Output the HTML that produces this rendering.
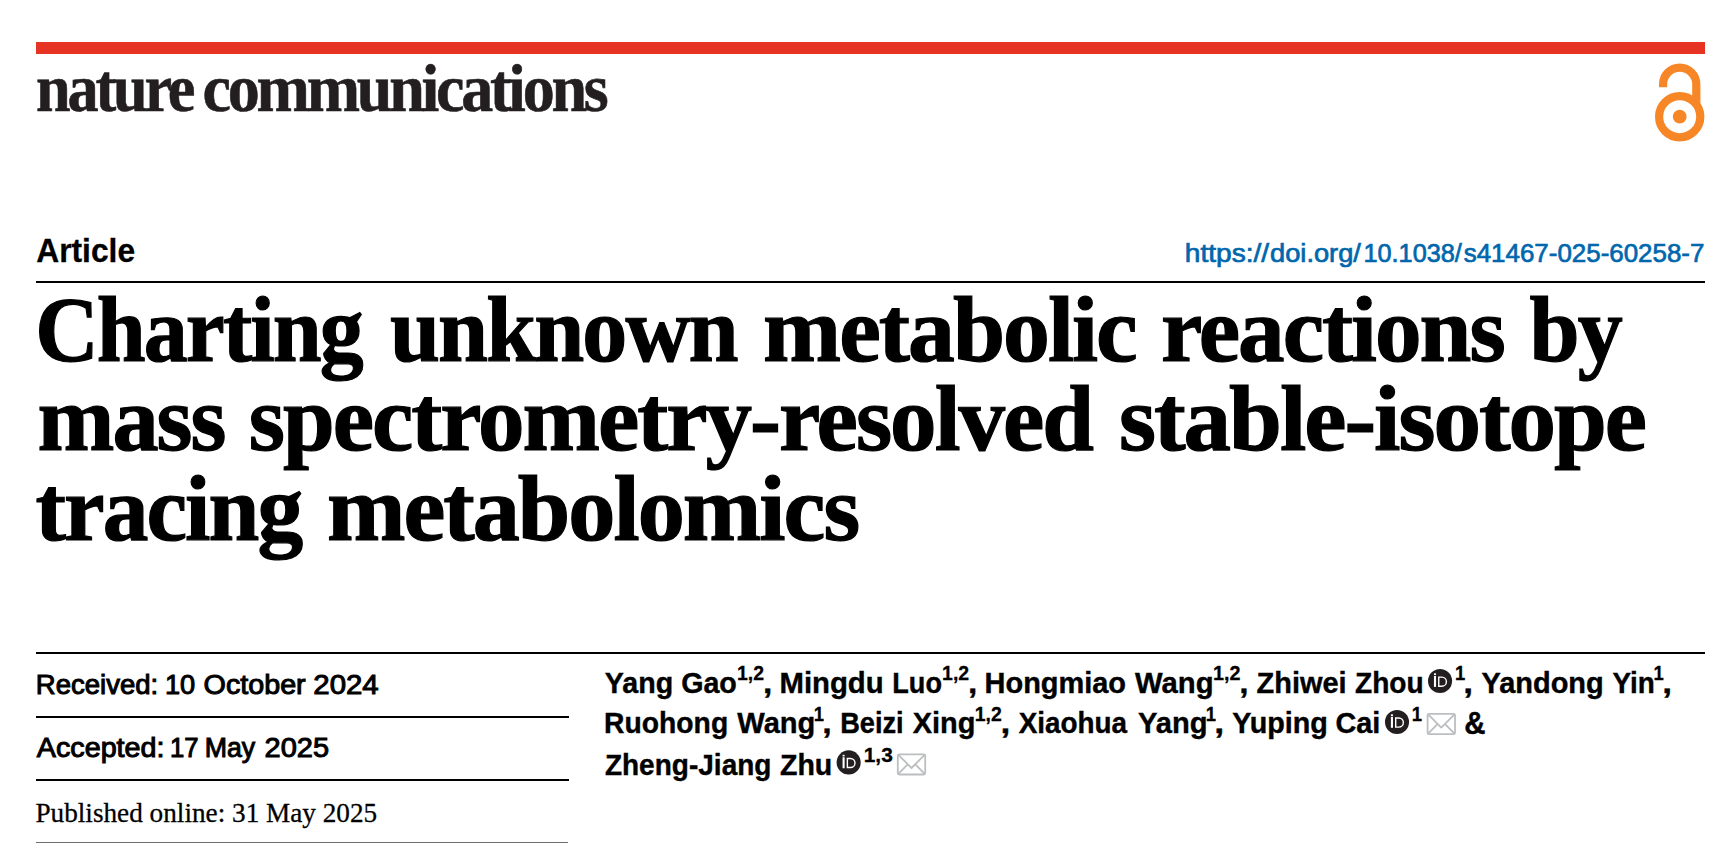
<!DOCTYPE html>
<html lang="en">
<head>
<meta charset="utf-8">
<title>Charting unknown metabolic reactions by mass spectrometry-resolved stable-isotope tracing metabolomics | Nature Communications</title>
<style>
html,body{margin:0;padding:0;background:#fff}
body{width:1727px;height:843px;position:relative;overflow:hidden;font-family:"Liberation Sans", sans-serif}
h1,h2,p,header,section,div,a,sup{margin:0;padding:0;font-weight:inherit;font-size:inherit}
a{text-decoration:none;color:inherit}
.t{position:absolute;left:0;top:0;white-space:nowrap;transform-origin:0 0;display:block}
.r{position:absolute;background:#000}
svg.ic{position:absolute;left:0;top:0;overflow:visible}
.t0{font:bold 67px/1 "Liberation Serif", serif;color:#231f20;transform:translate(35.95px,55.20px) scale(0.9294,1.0000);-webkit-text-stroke:0.6px #231f20;letter-spacing:-3.4px}
.t1{font:bold 67px/1 "Liberation Serif", serif;color:#231f20;transform:translate(202.57px,55.20px) scale(0.9561,1.0000);-webkit-text-stroke:0.6px #231f20;letter-spacing:-3.4px}
.t2{font:bold 32.3px/1 "Liberation Sans", sans-serif;color:#000;transform:translate(36.25px,234.55px) scale(0.9834,1.0000);-webkit-text-stroke:0.3px #000}
.t3{font:normal 26px/1 "Liberation Sans", sans-serif;color:#0067ad;transform:translate(1184.80px,239.65px) scale(1.0813,1.0000);-webkit-text-stroke:0.7px #0067ad}
.t4{font:normal 26px/1 "Liberation Sans", sans-serif;color:#0067ad;transform:translate(1270.02px,239.65px) scale(1.0482,1.0000);-webkit-text-stroke:0.7px #0067ad}
.t5{font:normal 26px/1 "Liberation Sans", sans-serif;color:#0067ad;transform:translate(1363.47px,239.65px) scale(0.9716,1.0000);-webkit-text-stroke:0.7px #0067ad}
.t6{font:normal 26px/1 "Liberation Sans", sans-serif;color:#0067ad;transform:translate(1463.75px,239.65px) scale(0.9969,1.0000);-webkit-text-stroke:0.7px #0067ad}
.t7{font:bold 94px/1 "Liberation Serif", serif;color:#000;transform:translate(35.32px,282.20px) scale(0.9341,1.0000);-webkit-text-stroke:1.2px #000;letter-spacing:-2px}
.t8{font:bold 94px/1 "Liberation Serif", serif;color:#000;transform:translate(389.92px,282.20px) scale(0.9568,1.0000);-webkit-text-stroke:1.2px #000;letter-spacing:-2px}
.t9{font:bold 94px/1 "Liberation Serif", serif;color:#000;transform:translate(763.10px,282.20px) scale(0.9972,1.0000);-webkit-text-stroke:1.2px #000;letter-spacing:-2px}
.t10{font:bold 94px/1 "Liberation Serif", serif;color:#000;transform:translate(1161.01px,282.20px) scale(0.9911,1.0000);-webkit-text-stroke:1.2px #000;letter-spacing:-2px}
.t11{font:bold 94px/1 "Liberation Serif", serif;color:#000;transform:translate(1529.62px,282.20px) scale(0.9582,1.0000);-webkit-text-stroke:1.2px #000;letter-spacing:-2px}
.t12{font:bold 94px/1 "Liberation Serif", serif;color:#000;transform:translate(37.42px,371.10px) scale(0.9827,1.0000);-webkit-text-stroke:1.2px #000;letter-spacing:-2px}
.t13{font:bold 94px/1 "Liberation Serif", serif;color:#000;transform:translate(248.82px,371.10px) scale(0.9892,1.0000);-webkit-text-stroke:1.2px #000;letter-spacing:-2px}
.t14{font:bold 94px/1 "Liberation Serif", serif;color:#000;transform:translate(1118.98px,371.10px) scale(1.0110,1.0000);-webkit-text-stroke:1.2px #000;letter-spacing:-2px}
.t15{font:bold 94px/1 "Liberation Serif", serif;color:#000;transform:translate(35.51px,460.80px) scale(0.9726,1.0000);-webkit-text-stroke:1.2px #000;letter-spacing:-2px}
.t16{font:bold 94px/1 "Liberation Serif", serif;color:#000;transform:translate(326.90px,460.80px) scale(1.0033,1.0000);-webkit-text-stroke:1.2px #000;letter-spacing:-2px}
.t17{font:normal 27px/1 "Liberation Sans", sans-serif;color:#000;transform:translate(35.77px,671.50px) scale(1.0199,1.0000);-webkit-text-stroke:1.0px #000}
.t18{font:normal 27px/1 "Liberation Sans", sans-serif;color:#000;transform:translate(164.99px,671.50px) scale(1.0066,1.0000);-webkit-text-stroke:1.0px #000}
.t19{font:normal 27px/1 "Liberation Sans", sans-serif;color:#000;transform:translate(203.57px,671.50px) scale(1.0630,1.0000);-webkit-text-stroke:1.0px #000}
.t20{font:normal 27px/1 "Liberation Sans", sans-serif;color:#000;transform:translate(313.36px,671.50px) scale(1.0875,1.0000);-webkit-text-stroke:1.0px #000}
.t21{font:normal 27px/1 "Liberation Sans", sans-serif;color:#000;transform:translate(36.83px,734.50px) scale(1.0629,1.0000);-webkit-text-stroke:1.0px #000}
.t22{font:normal 27px/1 "Liberation Sans", sans-serif;color:#000;transform:translate(170.07px,734.50px) scale(0.9500,1.0000);-webkit-text-stroke:1.0px #000}
.t23{font:normal 27px/1 "Liberation Sans", sans-serif;color:#000;transform:translate(204.72px,734.50px) scale(0.9900,1.0000);-webkit-text-stroke:1.0px #000}
.t24{font:normal 27px/1 "Liberation Sans", sans-serif;color:#000;transform:translate(264.56px,734.50px) scale(1.0737,1.0000);-webkit-text-stroke:1.0px #000}
.t25{font:normal 28.3px/1 "Liberation Serif", serif;color:#000;transform:translate(35.44px,798.95px) scale(0.9619,1.0000);-webkit-text-stroke:0.3px #000}
.t26{font:bold 30.2px/1 "Liberation Sans", sans-serif;color:#000;transform:translate(604.79px,667.70px) scale(0.9483,1.0000);-webkit-text-stroke:0.4px #000}
.t27{font:bold 20.5px/1 "Liberation Sans", sans-serif;color:#000;transform:translate(736.99px,663.35px) scale(0.9490,1.0000);-webkit-text-stroke:0.3px #000}
.t28{font:bold 30.2px/1 "Liberation Sans", sans-serif;color:#000;transform:translate(763.00px,667.70px) scale(1.1111,1.0000);-webkit-text-stroke:0.4px #000}
.t29{font:bold 30.2px/1 "Liberation Sans", sans-serif;color:#000;transform:translate(779.45px,667.70px) scale(0.9717,1.0000);-webkit-text-stroke:0.4px #000}
.t30{font:bold 30.2px/1 "Liberation Sans", sans-serif;color:#000;transform:translate(892.29px,667.70px) scale(0.8972,1.0000);-webkit-text-stroke:0.4px #000}
.t31{font:bold 20.5px/1 "Liberation Sans", sans-serif;color:#000;transform:translate(942.09px,663.35px) scale(0.9490,1.0000);-webkit-text-stroke:0.3px #000}
.t32{font:bold 30.2px/1 "Liberation Sans", sans-serif;color:#000;transform:translate(968.00px,667.70px) scale(1.1111,1.0000);-webkit-text-stroke:0.4px #000}
.t33{font:bold 30.2px/1 "Liberation Sans", sans-serif;color:#000;transform:translate(984.57px,667.70px) scale(0.9585,1.0000);-webkit-text-stroke:0.4px #000}
.t34{font:bold 30.2px/1 "Liberation Sans", sans-serif;color:#000;transform:translate(1134.99px,667.70px) scale(0.9700,1.0000);-webkit-text-stroke:0.4px #000}
.t35{font:bold 20.5px/1 "Liberation Sans", sans-serif;color:#000;transform:translate(1212.98px,663.35px) scale(0.9636,1.0000);-webkit-text-stroke:0.3px #000}
.t36{font:bold 30.2px/1 "Liberation Sans", sans-serif;color:#000;transform:translate(1239.20px,667.70px) scale(1.1111,1.0000);-webkit-text-stroke:0.4px #000}
.t37{font:bold 30.2px/1 "Liberation Sans", sans-serif;color:#000;transform:translate(1256.59px,667.70px) scale(0.9587,1.0000);-webkit-text-stroke:0.4px #000}
.t38{font:bold 30.2px/1 "Liberation Sans", sans-serif;color:#000;transform:translate(1354.99px,667.70px) scale(0.9310,1.0000);-webkit-text-stroke:0.4px #000}
.t39{font:bold 20.5px/1 "Liberation Sans", sans-serif;color:#000;transform:translate(1455.05px,663.35px) scale(0.9000,1.0000);-webkit-text-stroke:0.3px #000}
.t40{font:bold 30.2px/1 "Liberation Sans", sans-serif;color:#000;transform:translate(1463.20px,667.70px) scale(1.1667,1.0000);-webkit-text-stroke:0.4px #000}
.t41{font:bold 30.2px/1 "Liberation Sans", sans-serif;color:#000;transform:translate(1481.49px,667.70px) scale(0.9587,1.0000);-webkit-text-stroke:0.4px #000}
.t42{font:bold 30.2px/1 "Liberation Sans", sans-serif;color:#000;transform:translate(1612.38px,667.70px) scale(0.9241,1.0000);-webkit-text-stroke:0.4px #000}
.t43{font:bold 20.5px/1 "Liberation Sans", sans-serif;color:#000;transform:translate(1653.60px,663.35px) scale(0.9000,1.0000);-webkit-text-stroke:0.3px #000}
.t44{font:bold 30.2px/1 "Liberation Sans", sans-serif;color:#000;transform:translate(1662.20px,667.70px) scale(1.1667,1.0000);-webkit-text-stroke:0.4px #000}
.t45{font:bold 30.2px/1 "Liberation Sans", sans-serif;color:#000;transform:translate(604.11px,708.30px) scale(0.9366,1.0000);-webkit-text-stroke:0.4px #000}
.t46{font:bold 30.2px/1 "Liberation Sans", sans-serif;color:#000;transform:translate(737.29px,708.30px) scale(0.9637,1.0000);-webkit-text-stroke:0.4px #000}
.t47{font:bold 20.5px/1 "Liberation Sans", sans-serif;color:#000;transform:translate(813.85px,703.65px) scale(0.9000,1.0000);-webkit-text-stroke:0.3px #000}
.t48{font:bold 30.2px/1 "Liberation Sans", sans-serif;color:#000;transform:translate(822.27px,708.30px) scale(1.1296,1.0000);-webkit-text-stroke:0.4px #000}
.t49{font:bold 30.2px/1 "Liberation Sans", sans-serif;color:#000;transform:translate(840.18px,708.30px) scale(0.9011,1.0000);-webkit-text-stroke:0.4px #000}
.t50{font:bold 30.2px/1 "Liberation Sans", sans-serif;color:#000;transform:translate(912.69px,708.30px) scale(0.9586,1.0000);-webkit-text-stroke:0.4px #000}
.t51{font:bold 20.5px/1 "Liberation Sans", sans-serif;color:#000;transform:translate(974.79px,703.65px) scale(0.9490,1.0000);-webkit-text-stroke:0.3px #000}
.t52{font:bold 30.2px/1 "Liberation Sans", sans-serif;color:#000;transform:translate(1000.50px,708.30px) scale(1.1667,1.0000);-webkit-text-stroke:0.4px #000}
.t53{font:bold 30.2px/1 "Liberation Sans", sans-serif;color:#000;transform:translate(1018.68px,708.30px) scale(0.9226,1.0000);-webkit-text-stroke:0.4px #000}
.t54{font:bold 30.2px/1 "Liberation Sans", sans-serif;color:#000;transform:translate(1137.89px,708.30px) scale(0.9649,1.0000);-webkit-text-stroke:0.4px #000}
.t55{font:bold 20.5px/1 "Liberation Sans", sans-serif;color:#000;transform:translate(1205.80px,703.65px) scale(0.9000,1.0000);-webkit-text-stroke:0.3px #000}
.t56{font:bold 30.2px/1 "Liberation Sans", sans-serif;color:#000;transform:translate(1214.27px,708.30px) scale(1.1852,1.0000);-webkit-text-stroke:0.4px #000}
.t57{font:bold 30.2px/1 "Liberation Sans", sans-serif;color:#000;transform:translate(1232.19px,708.30px) scale(0.9510,1.0000);-webkit-text-stroke:0.4px #000}
.t58{font:bold 30.2px/1 "Liberation Sans", sans-serif;color:#000;transform:translate(1335.54px,708.30px) scale(0.9536,1.0000);-webkit-text-stroke:0.4px #000}
.t59{font:bold 20.5px/1 "Liberation Sans", sans-serif;color:#000;transform:translate(1411.75px,703.65px) scale(0.9000,1.0000);-webkit-text-stroke:0.3px #000}
.t60{font:bold 31.5px/1 "Liberation Sans", sans-serif;color:#000;transform:translate(1464.15px,707.70px) scale(0.9346,1.0000);-webkit-text-stroke:0.4px #000}
.t61{font:bold 30.2px/1 "Liberation Sans", sans-serif;color:#000;transform:translate(604.89px,749.70px) scale(0.9282,1.0000);-webkit-text-stroke:0.4px #000}
.t62{font:bold 30.2px/1 "Liberation Sans", sans-serif;color:#000;transform:translate(779.99px,749.70px) scale(0.9451,1.0000);-webkit-text-stroke:0.4px #000}
.t63{font:bold 20.5px/1 "Liberation Sans", sans-serif;color:#000;transform:translate(863.73px,744.85px) scale(1.0184,1.0000);-webkit-text-stroke:0.3px #000}

.bar{position:absolute;left:35.5px;top:42px;width:1669.5px;height:12.3px;background:#e63323}
.r1{left:35.5px;top:280.7px;width:1669.3px;height:2.1px}
.r2{left:35.5px;top:651.8px;width:1669.3px;height:2.1px}
.r3{left:35.5px;top:715.7px;width:533px;height:2.1px}
.r4{left:35.5px;top:779px;width:533px;height:2.1px}
.r5{left:36px;top:842px;width:532px;height:1px;background:#6e6e6e}

</style>
</head>
<body>

<div class="bar"></div>
<svg class="ic" width="1727" height="843" viewBox="0 0 1727 843" aria-hidden="true">
<g fill="none" stroke="#f78626" stroke-width="8.2">
<path d="M1663.1 87.2v-3a16.6 16.6 0 0 1 33.2 0v19.5"/>
<circle cx="1679.7" cy="116.7" r="20.6"/>
</g>
<circle cx="1679.7" cy="116.7" r="6.9" fill="#f78626"/>
<g transform="translate(1440.05,681.05)"><circle r="12.05" fill="#231f20"/><rect x="-6.1" y="-5.15" width="2.1" height="11" fill="#fff"/><rect x="-6.1" y="-7.7" width="2.1" height="1.7" rx="0.5" fill="#fff"/><path d="M-1.3 -3.95h3.1a4.55 4.55 0 0 1 0 9.1h-3.1z" fill="none" stroke="#fff" stroke-width="1.4"/></g><g transform="translate(1397.0,721.95)"><circle r="12.05" fill="#231f20"/><rect x="-6.1" y="-5.15" width="2.1" height="11" fill="#fff"/><rect x="-6.1" y="-7.7" width="2.1" height="1.7" rx="0.5" fill="#fff"/><path d="M-1.3 -3.95h3.1a4.55 4.55 0 0 1 0 9.1h-3.1z" fill="none" stroke="#fff" stroke-width="1.4"/></g><g transform="translate(848.65,762.4)"><circle r="12.05" fill="#231f20"/><rect x="-6.1" y="-5.15" width="2.1" height="11" fill="#fff"/><rect x="-6.1" y="-7.7" width="2.1" height="1.7" rx="0.5" fill="#fff"/><path d="M-1.3 -3.95h3.1a4.55 4.55 0 0 1 0 9.1h-3.1z" fill="none" stroke="#fff" stroke-width="1.4"/></g><g transform="translate(1426.7,713.0)" fill="none" stroke="#bcbec0" stroke-width="1.8" stroke-linejoin="round"><rect x="0.9" y="0.9" width="27.4" height="20.2" rx="1.4"/><path d="M1.2 1.2l13.4 13.4L28 1.2M1.2 20.8l9.8-10M28 20.8l-9.8-10"/></g><g transform="translate(896.9,753.4)" fill="none" stroke="#bcbec0" stroke-width="1.8" stroke-linejoin="round"><rect x="0.9" y="0.9" width="27.4" height="20.2" rx="1.4"/><path d="M1.2 1.2l13.4 13.4L28 1.2M1.2 20.8l9.8-10M28 20.8l-9.8-10"/></g>
</svg>
<div class="r r1"></div><div class="r r2"></div><div class="r r3"></div><div class="r r4"></div><div class="r r5"></div>

<header aria-label="nature communications"><span class="t t0">nature</span> <span class="t t1">communications</span></header>
<div class="kicker"><span class="t t2">Article</span></div>
<a class="doi"><span class="t t3">https://</span><span class="t t4">doi.org/</span><span class="t t5">10.1038/</span><span class="t t6">s41467-025-60258-7</span></a>
<h1 class="title"><span class="t t7">Charting</span> <span class="t t8">unknown</span> <span class="t t9">metabolic</span> <span class="t t10">reactions</span> <span class="t t11">by</span> <span class="t t12">mass</span> <span class="t t13">spectrometry-resolved</span> <span class="t t14">stable-isotope</span> <span class="t t15">tracing</span> <span class="t t16">metabolomics</span></h1>
<p class="date"><span class="t t17">Received:</span> <span class="t t18">10</span> <span class="t t19">October</span> <span class="t t20">2024</span></p>
<p class="date"><span class="t t21">Accepted:</span> <span class="t t22">17</span> <span class="t t23">May</span> <span class="t t24">2025</span></p>
<p class="date"><span class="t t25">Published online: 31 May 2025</span></p>
<section aria-label="Authors"><span class="t t26">Yang Gao</span><sup class="t t27">1,2</sup><span class="t t28">,</span> <span class="t t29">Mingdu</span> <span class="t t30">Luo</span><sup class="t t31">1,2</sup><span class="t t32">,</span> <span class="t t33">Hongmiao</span> <span class="t t34">Wang</span><sup class="t t35">1,2</sup><span class="t t36">,</span> <span class="t t37">Zhiwei</span> <span class="t t38">Zhou</span><sup class="t t39">1</sup><span class="t t40">,</span> <span class="t t41">Yandong</span> <span class="t t42">Yin</span><sup class="t t43">1</sup><span class="t t44">,</span> <span class="t t45">Ruohong</span> <span class="t t46">Wang</span><sup class="t t47">1</sup><span class="t t48">,</span> <span class="t t49">Beizi</span> <span class="t t50">Xing</span><sup class="t t51">1,2</sup><span class="t t52">,</span> <span class="t t53">Xiaohua</span> <span class="t t54">Yang</span><sup class="t t55">1</sup><span class="t t56">,</span> <span class="t t57">Yuping</span> <span class="t t58">Cai</span><sup class="t t59">1</sup> <span class="t t60">&amp;</span> <span class="t t61">Zheng-Jiang</span> <span class="t t62">Zhu</span><sup class="t t63">1,3</sup></section>
</body>
</html>
